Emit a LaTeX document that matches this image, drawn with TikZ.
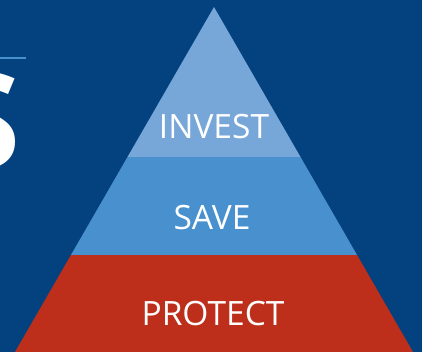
\documentclass[tikz,border=0pt]{standalone}
\usepackage{fontspec}
\setmainfont{Open Sans}
\usetikzlibrary{calc}
\definecolor{bgblue}{HTML}{03427F}
\definecolor{investblue}{HTML}{77A6D8}
\definecolor{saveblue}{HTML}{4890CE}
\definecolor{protectred}{HTML}{BE2F1B}
\tikzset{
  layerlabel/.style={text=white, inner sep=0pt, anchor=base, font=\fontsize{33.5}{33.5}\selectfont},
}
\begin{document}
\begin{tikzpicture}[x=1pt,y=1pt]
\useasboundingbox (0,0) rectangle (422,352);
\fill[bgblue] (0,0) rectangle (422,352);
% accent line and cut-off letter
\coordinate (l1) at (0,294);
\coordinate (l2) at (26,294);
\draw[saveblue, line width=2pt] (l1) -- (l2);
\node[text=white, inner sep=0pt, anchor=base east, font=\fontsize{133}{133}\selectfont\bfseries] (bigS) at (21,183) {S};
% pyramid geometry
\coordinate (apex) at (214,345);
\coordinate (bl) at (15,0);
\coordinate (br) at (413,0);
\coordinate (pl) at ($(apex)!{248/345}!(bl)$);
\coordinate (pr) at ($(apex)!{248/345}!(br)$);
\coordinate (sl) at ($(apex)!{150/345}!(bl)$);
\coordinate (sr) at ($(apex)!{150/345}!(br)$);
\fill[protectred] (bl) -- (br) -- (pr) -- (pl) -- cycle;
\fill[saveblue] (pl) -- (pr) -- (sr) -- (sl) -- cycle;
\fill[investblue] (sl) -- (sr) -- (apex) -- cycle;
\node[layerlabel] (invest) at (214,213) {INVEST};
\node[layerlabel] (save) at (212,122) {SAVE};
\node[layerlabel] (protect) at (213,26) {PROTECT};
\end{tikzpicture}
\end{document}
